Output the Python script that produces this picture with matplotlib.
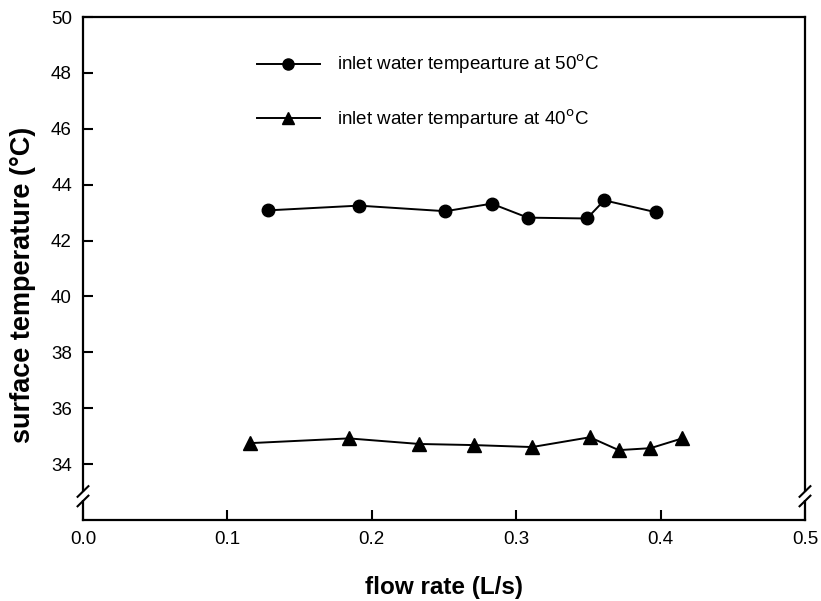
import matplotlib
matplotlib.use("Agg")
import matplotlib.pyplot as plt
from matplotlib.lines import Line2D
from matplotlib.patches import Rectangle

plt.rcParams['font.family'] = ['Liberation Sans', 'DejaVu Sans']

flow50 = [0.128, 0.191, 0.251, 0.283, 0.308, 0.349, 0.361, 0.397]
temp50 = [43.08, 43.25, 43.05, 43.32, 42.82, 42.79, 43.44, 43.01]
flow40 = [0.1156, 0.184, 0.233, 0.271, 0.311, 0.351, 0.371, 0.393, 0.415]
temp40 = [34.75, 34.92, 34.72, 34.68, 34.61, 34.96, 34.5, 34.57, 34.92]

label50 = "inlet water tempearture at 50$^{\\mathrm{o}}$C"
label40 = "inlet water temparture at 40$^{\\mathrm{o}}$C"
xticks = [0.0, 0.1, 0.2, 0.3, 0.4, 0.5]
yticks = [34, 36, 38, 40, 42, 44, 46, 48, 50]

fig = plt.figure(figsize=(8.21, 6.01), dpi=100)
ax = fig.add_axes([0.1011, 0.1348, 0.8794, 0.8369])

ax.plot(flow50, temp50, color='black', lw=1.4, marker='o', ms=9, label=label50)
ax.plot(flow40, temp40, color='black', lw=1.4, marker='^', ms=10, label=label40)

ax.set_xlim(0, 0.5)
ax.set_ylim(32, 50)
ax.set_xticks(xticks)
ax.set_xticklabels([f"{v:.1f}" for v in xticks])
ax.set_yticks(yticks)
ax.set_yticklabels([str(v) for v in yticks])
ax.tick_params(direction='in', length=7, width=1.5, labelsize=13.5, pad=8,
               top=False, right=False)
for s in ax.spines.values():
    s.set_linewidth(1.6)

ax.set_xlabel("flow rate (L/s)", fontsize=17.5, fontweight='bold', labelpad=20)
ax.set_ylabel("surface temperature (°C)", fontsize=19.5, fontweight='bold')
ax.yaxis.set_label_coords(-0.065, 0.467)

# axis break marks on left and right spines
ybr = 32.85
for xa in (0.0, 1.0):
    ax.add_patch(Rectangle((xa - 0.006, 32.72), 0.012, 0.28, transform=ax.get_yaxis_transform(),
                           facecolor='white', edgecolor='none', clip_on=False, zorder=5))
    for dy in (-0.17, 0.17):
        ax.add_line(Line2D([xa - 0.0075, xa + 0.0075], [ybr + dy - 0.19, ybr + dy + 0.19],
                           transform=ax.get_yaxis_transform(), color='black', lw=1.5,
                           clip_on=False, zorder=6))

leg = ax.legend(loc='upper left', bbox_to_anchor=(0.2306, 0.944), frameon=False,
                fontsize=13.5, handlelength=3.36, handletextpad=0.9, labelspacing=1.68,
                borderaxespad=0.0)
for h in leg.legend_handles:
    h.set_markersize(8)

fig.savefig("out.png", dpi=100)
